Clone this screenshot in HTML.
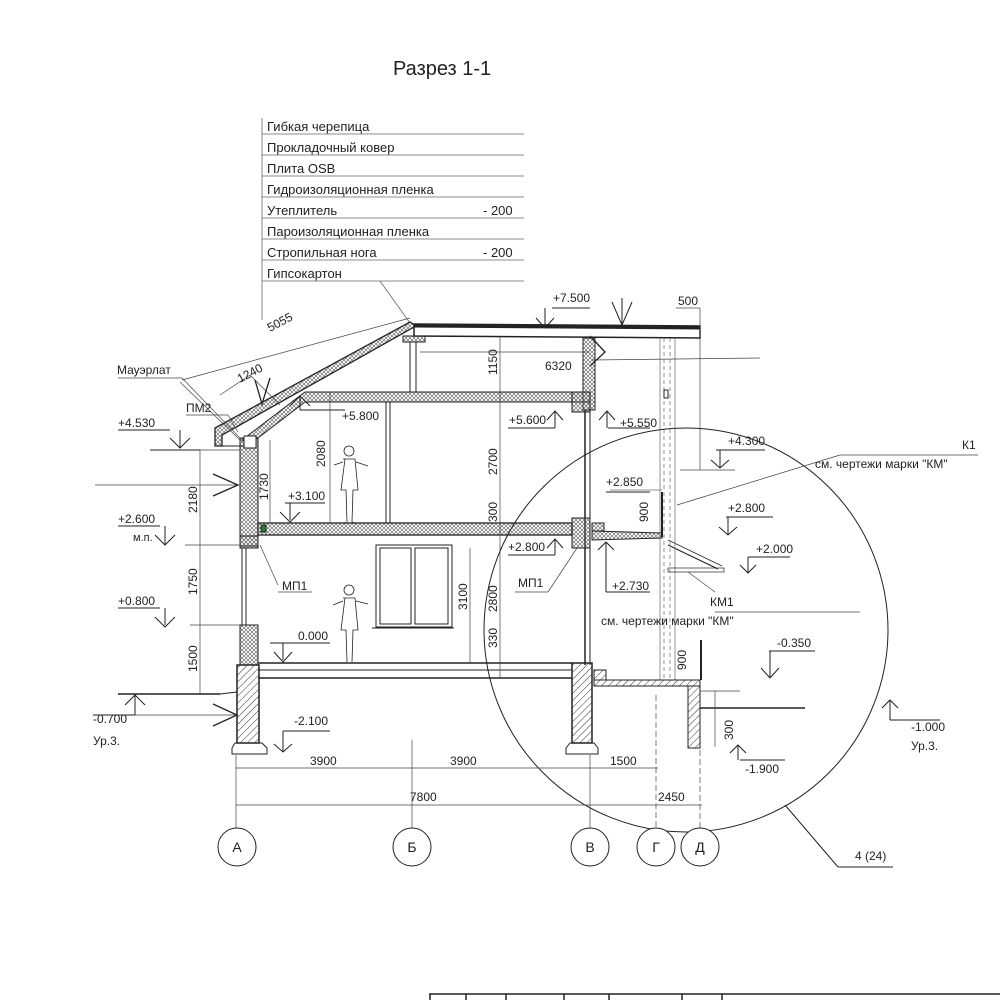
<!DOCTYPE html>
<html><head><meta charset="utf-8"><style>
html,body{margin:0;padding:0;background:#fff}
svg{display:block}
text{font-family:"Liberation Sans",sans-serif;fill:#222}
</style></head><body>
<svg width="1000" height="1000" viewBox="0 0 1000 1000" xmlns="http://www.w3.org/2000/svg">
<defs>
<pattern id="hat" width="5" height="5" patternUnits="userSpaceOnUse" patternTransform="rotate(45)"><line x1="0" y1="0" x2="0" y2="5" stroke="#333" stroke-width="1"/></pattern>
<pattern id="xh" width="4" height="4" patternUnits="userSpaceOnUse"><path d="M0 0L4 4M4 0L0 4" stroke="#555" stroke-width="0.6"/></pattern>
</defs>
<g stroke="#222" fill="none" stroke-width="1">
<!-- title -->
<text x="393" y="75" font-size="20" stroke="none" style="font-size:20px">Разрез 1-1</text>
<!-- layers table -->
<g stroke="#666" stroke-width="0.8">
<line x1="262" y1="118" x2="262" y2="320"/>
<line x1="262" y1="134" x2="524" y2="134"/><line x1="262" y1="155" x2="524" y2="155"/>
<line x1="262" y1="176" x2="524" y2="176"/><line x1="262" y1="197" x2="524" y2="197"/>
<line x1="262" y1="218" x2="524" y2="218"/><line x1="262" y1="239" x2="524" y2="239"/>
<line x1="262" y1="260" x2="524" y2="260"/><line x1="262" y1="281" x2="524" y2="281"/>
<line x1="380" y1="281" x2="410" y2="323"/>
</g>
<g stroke="none" font-size="13">
<text x="267" y="131">Гибкая черепица</text>
<text x="267" y="152">Прокладочный ковер</text>
<text x="267" y="173">Плита OSB</text>
<text x="267" y="194">Гидроизоляционная пленка</text>
<text x="267" y="215">Утеплитель</text><text x="483" y="215">- 200</text>
<text x="267" y="236">Пароизоляционная пленка</text>
<text x="267" y="257">Стропильная нога</text><text x="483" y="257">- 200</text>
<text x="267" y="278">Гипсокартон</text>
</g>
<!-- roof -->
<polygon points="215,428 410,322 416,326 222,435 222,446 215,446" fill="url(#xh)" stroke-width="1.3"/>
<line x1="222" y1="446" x2="245" y2="446"/>
<polygon points="414,324 700,326 700,338 414,336" fill="#fff" stroke-width="1.5"/>
<line x1="414" y1="326" x2="700" y2="328" stroke-width="3"/>
<rect x="403" y="336" width="22" height="6" fill="url(#xh)"/>
<line x1="410" y1="342" x2="410" y2="392"/><line x1="416" y1="342" x2="416" y2="392"/>
<polygon points="242,440 305,392 590,392 590,402 305,402 250,444" fill="url(#xh)"/>
<!-- right upper wall -->
<rect x="583" y="338" width="12" height="72" fill="url(#xh)"/>
<rect x="572" y="392" width="18" height="20" fill="url(#xh)"/>
<line x1="585" y1="410" x2="585" y2="665" stroke-width="1.5"/><line x1="590" y1="410" x2="590" y2="665"/>
<!-- interior wall -->
<rect x="386" y="402" width="4" height="121"/>
<!-- left wall -->
<rect x="240" y="438" width="18" height="108" fill="url(#xh)"/>
<rect x="244" y="436" width="12" height="12" fill="#fff"/>
<rect x="240" y="536" width="18" height="12" fill="url(#xh)"/>
<line x1="242" y1="548" x2="242" y2="625"/><line x1="246" y1="548" x2="246" y2="625"/>
<rect x="240" y="625" width="18" height="40" fill="url(#xh)"/>
<!-- floor 2 -->
<rect x="258" y="523" width="314" height="12" fill="url(#xh)" stroke-width="1.3"/>
<rect x="261" y="525" width="5" height="7" fill="#2a7a3a"/>
<rect x="572" y="518" width="18" height="30" fill="url(#xh)"/>
<!-- balcony -->
<rect x="592" y="523" width="12" height="8" fill="url(#xh)"/>
<polygon points="592,531 662,533 662,538 592,540" fill="url(#xh)"/>
<line x1="662" y1="492" x2="662" y2="537" stroke-width="2"/>
<line x1="610" y1="490" x2="662" y2="490" stroke-width="0.6"/>
<line x1="668" y1="540" x2="722" y2="566" stroke-width="0.7"/><line x1="668" y1="545" x2="718" y2="569"/>
<rect x="668" y="568" width="56" height="4" stroke-width="0.7"/>
<!-- dashed column -->
<g stroke-width="0.7" stroke="#666"><line x1="660" y1="338" x2="660" y2="680"/><line x1="675" y1="338" x2="675" y2="680"/>
<line x1="664" y1="338" x2="664" y2="680" stroke-dasharray="4 3"/><line x1="670" y1="338" x2="670" y2="680" stroke-dasharray="4 3"/></g>
<rect x="664" y="390" width="4" height="8"/>
<!-- ground floor -->
<line x1="258" y1="663" x2="572" y2="663" stroke-width="1.5"/>
<line x1="258" y1="670" x2="572" y2="670"/><line x1="258" y1="678" x2="572" y2="678" stroke-width="1.5"/>
<rect x="237" y="665" width="22" height="78" fill="url(#hat)" stroke-width="1.5"/>
<path d="M235 743 L262 743 L267 748 L267 754 L232 754 L232 748 Z"/>
<rect x="572" y="663" width="20" height="80" fill="url(#hat)" stroke-width="1.5"/>
<path d="M570 743 L594 743 L598 748 L598 754 L566 754 L566 748 Z"/>
<rect x="594" y="670" width="12" height="10" fill="url(#hat)"/>
<rect x="594" y="680" width="106" height="6" fill="url(#hat)"/>
<rect x="688" y="686" width="12" height="62" fill="url(#hat)"/>
<line x1="701" y1="640" x2="701" y2="680" stroke-width="2"/>
<line x1="700" y1="708" x2="805" y2="708" stroke-width="1.5"/>
<line x1="118" y1="694" x2="220" y2="694" stroke-width="1.5"/>
<line x1="220" y1="694" x2="237" y2="692"/>
<!-- window -->
<rect x="376" y="545" width="76" height="82"/>
<rect x="380" y="548" width="31" height="76"/><rect x="415" y="548" width="33" height="76"/>
<line x1="372" y1="628" x2="454" y2="628"/>
<!-- people -->
<g stroke-width="0.8">
<circle cx="349" cy="451" r="5"/><path d="M343 459 L355 459 L358 490 L353 490 L352 522 M345 459 L341 490 L346 490 L347 522 M343 462 L334 465 M356 462 L368 466 M346 522 L344 524 M352 522 L356 524"/>
<circle cx="349" cy="590" r="5"/><path d="M343 598 L355 598 L358 630 L353 630 L352 662 M345 598 L341 630 L346 630 L347 662 M343 601 L333 605 M356 601 L368 604"/>
</g>
<!-- circle -->
<circle cx="686" cy="630" r="202" stroke-width="1"/>
<line x1="785" y1="805" x2="838" y2="867"/><line x1="838" y1="867" x2="893" y2="867"/>
</g>
<!-- dimension lines -->
<g stroke="#444" stroke-width="0.7" fill="none">
<line x1="200" y1="450" x2="200" y2="695"/>
<line x1="190" y1="450" x2="240" y2="450"/><line x1="185" y1="545" x2="240" y2="545"/><line x1="190" y1="625" x2="240" y2="625"/>
<line x1="270" y1="440" x2="270" y2="523"/><line x1="330" y1="392" x2="330" y2="523"/>
<line x1="470" y1="548" x2="470" y2="663"/><line x1="500" y1="337" x2="500" y2="678"/>
<line x1="420" y1="352" x2="590" y2="352"/><line x1="593" y1="402" x2="595" y2="402"/>
<line x1="236" y1="755" x2="236" y2="830"/><line x1="412" y1="740" x2="412" y2="830"/><line x1="590" y1="755" x2="590" y2="830"/>
<line x1="656" y1="695" x2="656" y2="830" stroke-dasharray="6 3"/><line x1="700" y1="750" x2="700" y2="830" stroke-dasharray="6 3"/>
<line x1="236" y1="768" x2="658" y2="768"/><line x1="236" y1="805" x2="702" y2="805"/>
<line x1="182" y1="380" x2="410" y2="318"/><line x1="180" y1="382" x2="240" y2="440"/>
<line x1="220" y1="395" x2="250" y2="375"/><line x1="250" y1="375" x2="280" y2="405"/>
<line x1="676" y1="308" x2="700" y2="308"/><line x1="700" y1="308" x2="700" y2="470"/>
<line x1="680" y1="470" x2="735" y2="470"/>
<line x1="715" y1="691" x2="715" y2="747"/><line x1="700" y1="691" x2="740" y2="691"/>
<line x1="95" y1="485" x2="238" y2="485"/><line x1="115" y1="715" x2="237" y2="715"/>
<line x1="592" y1="360" x2="760" y2="358"/>
</g>
<!-- leaders -->
<g stroke="#444" stroke-width="0.7" fill="none">
<line x1="677" y1="505" x2="840" y2="455"/><line x1="840" y1="455" x2="978" y2="455"/>
<line x1="688" y1="572" x2="715" y2="592"/><line x1="715" y1="612" x2="860" y2="612"/>
<line x1="118" y1="378" x2="182" y2="378"/><line x1="182" y1="378" x2="240" y2="438"/>
<line x1="186" y1="415" x2="228" y2="415"/><line x1="228" y1="415" x2="238" y2="432"/>
<line x1="260" y1="545" x2="278" y2="585"/><line x1="278" y1="592" x2="312" y2="592"/>
<line x1="577" y1="548" x2="548" y2="592"/><line x1="515" y1="592" x2="548" y2="592"/>
</g>
<!-- level marks -->
<g stroke="#222" stroke-width="1" fill="none">
<path d="M118 430 H170 M180 430 V448 M170 438 L180 448 L190 438 M150 450 H200"/>
<path d="M118 526 H160 M165 526 V545 M155 535 L165 545 L175 535"/>
<path d="M118 608 H160 M165 608 V625 M155 617 L165 627 L175 617"/>
<path d="M93 715 H135 M135 715 V695 M125 705 L135 695 L145 705"/>
<path d="M300 410 H345 M300 410 V396 M290 406 L300 396 L310 406"/>
<path d="M285 503 H325 M290 503 V520 M280 512 L290 522 L300 512"/>
<path d="M270 643 H330 M283 643 V660 M274 652 L283 662 L292 652"/>
<path d="M283 731 H330 M283 731 V752 M274 744 L283 752 L292 744"/>
<path d="M552 308 H590 M545 308 V327 M536 318 L545 328 L554 318"/>
<path d="M622 298 V325 M612 302 L622 325 L632 302"/>
<path d="M508 428 H555 M555 428 V412 M547 420 L555 411 L563 420"/>
<path d="M608 428 H650 M607 428 V411 M599 420 L607 411 L615 420"/>
<path d="M716 450 H765 M720 450 V468 M711 460 L720 468 L729 460"/>
<path d="M606 492 H650"/>
<path d="M726 517 H773 M728 517 V535 M719 527 L728 535 L737 527"/>
<path d="M748 557 H790 M748 557 V573 M740 565 L748 573 L756 565"/>
<path d="M508 555 H555 M555 555 V540 M547 548 L555 539 L563 548"/>
<path d="M606 592 H650 M606 592 V542 M598 550 L606 542 L614 550"/>
<path d="M769 651 H815 M770 651 V677 M761 668 L770 678 L779 668"/>
<path d="M890 720 H940 M890 720 V700 M882 708 L890 700 L898 708"/>
<path d="M740 760 H785 M738 760 V745 M730 753 L738 745 L746 753"/>
<path d="M590 336 L605 352 L590 366" stroke-width="1.3"/>
<path d="M213 474 L238 485 L213 496 M213 704 L237 715 L213 726" stroke-width="1.3"/>
<path d="M255 380 L262 404 L270 378" stroke-width="1.3"/>
</g>
<!-- labels -->
<g stroke="none" font-size="12">
<text x="117" y="374">Мауэрлат</text><text x="186" y="412">ПМ2</text>
<text x="118" y="427">+4.530</text><text x="118" y="523">+2.600</text><text x="133" y="541" font-size="11">м.п.</text>
<text x="118" y="605">+0.800</text><text x="93" y="723">-0.700</text><text x="93" y="745">Ур.3.</text>
<text x="342" y="420">+5.800</text><text x="288" y="500">+3.100</text><text x="298" y="640">0.000</text>
<text x="294" y="725">-2.100</text><text x="282" y="590">МП1</text><text x="518" y="587">МП1</text>
<text x="509" y="424">+5.600</text><text x="620" y="427">+5.550</text><text x="508" y="551">+2.800</text>
<text x="612" y="590">+2.730</text><text x="606" y="486">+2.850</text>
<text x="553" y="302">+7.500</text><text x="728" y="445">+4.300</text><text x="728" y="512">+2.800</text>
<text x="756" y="553">+2.000</text><text x="777" y="647">-0.350</text><text x="911" y="731">-1.000</text>
<text x="911" y="750">Ур.3.</text><text x="745" y="773">-1.900</text>
<text x="962" y="449">К1</text><text x="815" y="468">см. чертежи марки "КМ"</text>
<text x="710" y="606">КМ1</text><text x="601" y="625">см. чертежи марки "КМ"</text>
<text x="678" y="305">500</text><text x="545" y="370">6320</text>
<text x="310" y="765">3900</text><text x="450" y="765">3900</text><text x="610" y="765">1500</text>
<text x="410" y="801">7800</text><text x="658" y="801">2450</text>
<text x="855" y="860">4 (24)</text>
<g font-size="12">
<text transform="translate(197,513) rotate(-90)">2180</text>
<text transform="translate(197,595) rotate(-90)">1750</text>
<text transform="translate(197,672) rotate(-90)">1500</text>
<text transform="translate(268,500) rotate(-90)">1730</text>
<text transform="translate(325,467) rotate(-90)">2080</text>
<text transform="translate(497,375) rotate(-90)">1150</text>
<text transform="translate(497,475) rotate(-90)">2700</text>
<text transform="translate(497,522) rotate(-90)">300</text>
<text transform="translate(497,612) rotate(-90)">2800</text>
<text transform="translate(497,648) rotate(-90)">330</text>
<text transform="translate(467,610) rotate(-90)">3100</text>
<text transform="translate(648,522) rotate(-90)">900</text>
<text transform="translate(686,670) rotate(-90)">900</text>
<text transform="translate(733,740) rotate(-90)">300</text>
<text transform="translate(270,332) rotate(-28)">5055</text>
<text transform="translate(240,383) rotate(-28)">1240</text>
</g>
</g>
<!-- axis circles -->
<g stroke="#222" fill="#fff">
<ellipse cx="237" cy="847" rx="19" ry="19"/><ellipse cx="412" cy="847" rx="19" ry="19"/>
<ellipse cx="590" cy="847" rx="19" ry="19"/><ellipse cx="656" cy="847" rx="19" ry="19"/><ellipse cx="700" cy="847" rx="19" ry="19"/>
</g>
<g stroke="none" font-size="14" text-anchor="middle">
<text x="237" y="852">А</text><text x="412" y="852">Б</text><text x="590" y="852">В</text><text x="656" y="852">Г</text><text x="700" y="852">Д</text>
</g>
<!-- bottom stamp -->
<g stroke="#222" stroke-width="1.5">
<line x1="429" y1="994" x2="1000" y2="994"/>
<line x1="430" y1="994" x2="430" y2="1000"/><line x1="466" y1="994" x2="466" y2="1000"/>
<line x1="506" y1="994" x2="506" y2="1000"/><line x1="564" y1="994" x2="564" y2="1000"/>
<line x1="609" y1="994" x2="609" y2="1000"/><line x1="682" y1="994" x2="682" y2="1000"/><line x1="722" y1="994" x2="722" y2="1000"/>
</g>
</svg>
</body></html>
